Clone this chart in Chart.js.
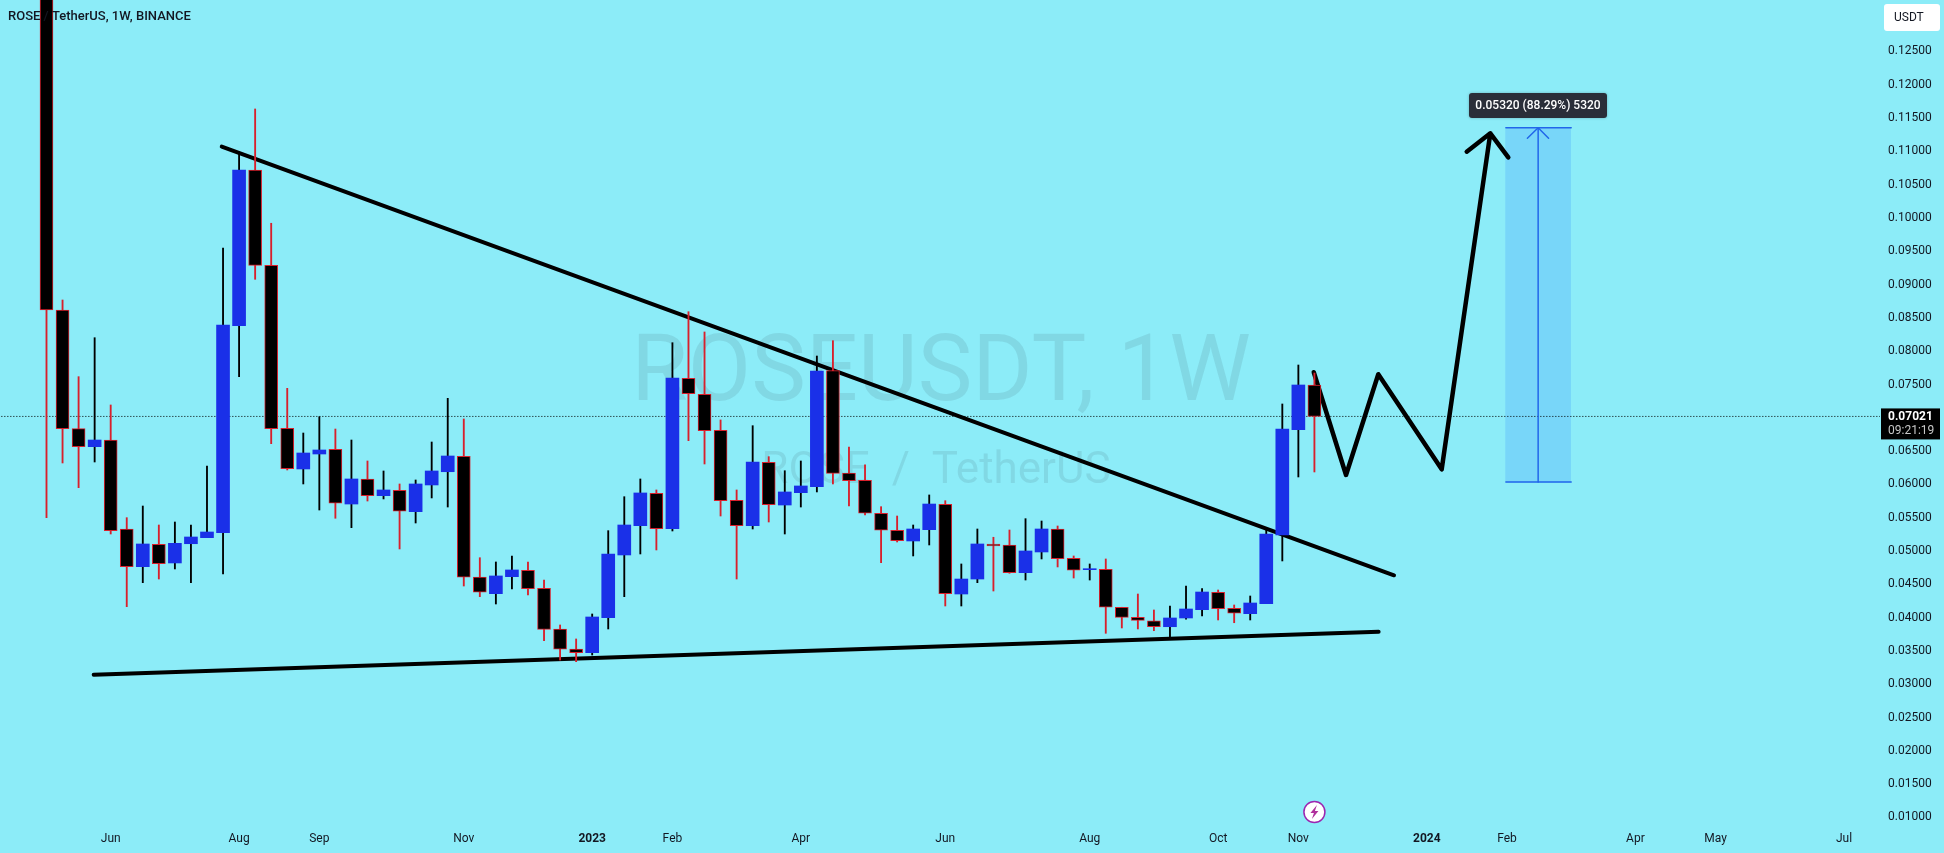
<!DOCTYPE html>
<html>
<head>
<meta charset="utf-8">
<title>ROSE / TetherUS, 1W, BINANCE</title>
<script src="https://cdn.jsdelivr.net/npm/chart.js@4/dist/chart.umd.js"></script>
<style>
  html, body { margin: 0; padding: 0; background: #8cecf8; overflow: hidden; }
  canvas { display: block; }
</style>
</head>
<body>
<canvas id="grafico" width="1944" height="853"></canvas>
<script>
// weekly candles
const opens = [0.13500, 0.08619, 0.06837, 0.06567, 0.06667, 0.05331, 0.04765, 0.05101, 0.04821, 0.05110,
  0.05201, 0.05276, 0.08383, 0.10721, 0.09290, 0.06843, 0.06232, 0.06457, 0.06528, 0.05706,
  0.06082, 0.05831, 0.05912, 0.05591, 0.05992, 0.06191, 0.06422, 0.04610, 0.04360, 0.04615,
  0.04711, 0.04441, 0.03830, 0.03530, 0.03474, 0.03999, 0.04941, 0.05381, 0.05867, 0.05336,
  0.07594, 0.07353, 0.06813, 0.05762, 0.05381, 0.06333, 0.05691, 0.05876, 0.05966, 0.07708,
  0.06172, 0.06062, 0.05567, 0.05312, 0.05151, 0.05321, 0.05702, 0.04355, 0.04580, 0.05106,
  0.05091, 0.04675, 0.04986, 0.05331, 0.04891, 0.04720, 0.04726, 0.04156, 0.04005, 0.03954,
  0.03864, 0.03995, 0.04120, 0.04381, 0.04141, 0.04060, 0.04210, 0.05241, 0.06822, 0.07493];
const highs = [0.14200, 0.08769, 0.07618, 0.08203, 0.07193, 0.05501, 0.05676, 0.05391, 0.05436, 0.05391,
  0.06277, 0.09550, 0.10996, 0.11637, 0.09921, 0.07443, 0.06772, 0.07017, 0.06832, 0.06667,
  0.06352, 0.06202, 0.06007, 0.06067, 0.06637, 0.07293, 0.06983, 0.04900, 0.04836, 0.04926,
  0.04836, 0.04565, 0.03890, 0.03680, 0.04055, 0.05306, 0.05816, 0.06082, 0.05917, 0.08128,
  0.08593, 0.08289, 0.06968, 0.05917, 0.06882, 0.06417, 0.06206, 0.06352, 0.07928, 0.08158,
  0.06562, 0.06296, 0.05666, 0.05526, 0.05391, 0.05842, 0.05756, 0.04806, 0.05331, 0.05207,
  0.05316, 0.05486, 0.05451, 0.05376, 0.04926, 0.04806, 0.04881, 0.04156, 0.04355, 0.04115,
  0.04175, 0.04475, 0.04435, 0.04415, 0.04190, 0.04325, 0.05316, 0.07208, 0.07793, 0.07673];
const lows = [0.05501, 0.06322, 0.05951, 0.06337, 0.05256, 0.04165, 0.04525, 0.04580, 0.04731, 0.04525,
  0.05201, 0.04656, 0.07618, 0.09080, 0.06612, 0.06217, 0.06007, 0.05616, 0.05492, 0.05351,
  0.05751, 0.05782, 0.05031, 0.05421, 0.05797, 0.05661, 0.04475, 0.04315, 0.04205, 0.04430,
  0.04340, 0.03654, 0.03364, 0.03339, 0.03439, 0.03830, 0.04315, 0.04956, 0.05016, 0.05301,
  0.06657, 0.06307, 0.05526, 0.04580, 0.05331, 0.05436, 0.05256, 0.05661, 0.05887, 0.06007,
  0.05676, 0.05541, 0.04825, 0.05136, 0.04926, 0.05091, 0.04175, 0.04175, 0.04525, 0.04400,
  0.04666, 0.04565, 0.04881, 0.04761, 0.04595, 0.04565, 0.03765, 0.03845, 0.03830, 0.03804,
  0.03714, 0.03976, 0.04025, 0.03965, 0.03924, 0.03965, 0.04210, 0.04851, 0.06112, 0.06187];
const closes = [0.08619, 0.06837, 0.06567, 0.06667, 0.05306, 0.04765, 0.05106, 0.04810, 0.05116, 0.05211,
  0.05286, 0.08394, 0.10721, 0.09290, 0.06837, 0.06236, 0.06472, 0.06517, 0.05717, 0.06082,
  0.05831, 0.05917, 0.05597, 0.06007, 0.06202, 0.06427, 0.04606, 0.04381, 0.04626, 0.04716,
  0.04435, 0.03825, 0.03525, 0.03474, 0.04010, 0.04956, 0.05391, 0.05872, 0.05336, 0.07598,
  0.07362, 0.06807, 0.05756, 0.05381, 0.06337, 0.05696, 0.05887, 0.05977, 0.07703, 0.06167,
  0.06056, 0.05567, 0.05312, 0.05155, 0.05331, 0.05706, 0.04360, 0.04580, 0.05106, 0.05076,
  0.04675, 0.05001, 0.05331, 0.04885, 0.04711, 0.04726, 0.04156, 0.04005, 0.03960, 0.03864,
  0.03995, 0.04130, 0.04385, 0.04135, 0.04066, 0.04220, 0.05256, 0.06832, 0.07493, 0.07021];

// axes
const priceTicks = [0.125, 0.12, 0.115, 0.11, 0.105, 0.1, 0.095, 0.09, 0.085, 0.08, 0.075, 0.065, 0.06,
  0.055, 0.05, 0.045, 0.04, 0.035, 0.03, 0.025, 0.02, 0.015, 0.01];
const timeTicks = [4, 12, 17, 26, 34, 39, 47, 56, 65, 73, 78, 86, 91, 99, 104, 112];
const timeLabels = ["Jun", "Aug", "Sep", "Nov", "2023", "Feb", "Apr", "Jun", "Aug", "Oct", "Nov", "2024", "Feb", "Apr", "May", "Jul"];

// drawings: [week, price]
const upperTrend = [[10.92, 0.11071], [83.96, 0.04636]];
const lowerTrend = [[2.94, 0.03144], [83.0, 0.03789]];
const forecast = [[78.96, 0.07684], [80.97, 0.06142], [82.98, 0.07654], [86.93, 0.06227], [89.96, 0.11272],
  [88.49, 0.10996], [89.96, 0.11272], [91.08, 0.10911]];
const rangeBox = { week: 92.94, from: 0.06036, to: 0.11356, left: 90.93, right: 95.0 };
const rangeHead = [[92.27, 0.11197], [92.94, 0.11356], [93.59, 0.11197]];
const lastPrice = 0.07021;

// cores
const azul = "#1a30e8";
const vermelho = "#d8202c";
const preto = "#000000";
const azulDesenho = "#2166ea";
const fonte = 'Roboto, sans-serif';

const semanas = opens.map((_, i) => i);
const sobe = semanas.map((i) => closes[i] >= opens[i]);
const xy = (pontos) => pontos.map(([x, y]) => ({ x, y }));

function linha(pontos, cor, largura, ordem, extra) {
  return Object.assign({
    type: "line",
    data: xy(pontos),
    borderColor: cor,
    borderWidth: largura,
    pointRadius: 0,
    tension: 0,
    fill: false,
    borderCapStyle: "round",
    borderJoinStyle: "round",
    order: ordem,
  }, extra || {});
}

// everything that is not a mark: watermark, header, price tag, tooltip box
const overlay = {
  id: "overlay",
  beforeDatasetsDraw(chart) {
    const ctx = chart.ctx;
    ctx.save();
    ctx.fillStyle = "rgba(19,23,34,0.09)";
    ctx.textAlign = "center";
    ctx.textBaseline = "alphabetic";
    ctx.font = "92px " + fonte;
    ctx.fillText("ROSEUSDT, 1W", 941, 400);
    ctx.font = "44px " + fonte;
    ctx.fillText("ROSE  /  TetherUS", 936, 483);
    ctx.restore();
  },
  afterDatasetsDraw(chart) {
    const ctx = chart.ctx;
    const x = chart.scales.x;
    const y = chart.scales.y;
    ctx.save();
    ctx.textBaseline = "middle";

    // header
    ctx.fillStyle = "#131722";
    ctx.textAlign = "left";
    ctx.font = "500 13px " + fonte;
    ctx.fillText("ROSE / TetherUS, 1W, BINANCE", 8, 17);

    // USDT button
    ctx.fillStyle = "#ffffff";
    ctx.beginPath();
    ctx.roundRect(1884, 4, 56, 27, 3);
    ctx.fill();
    ctx.fillStyle = "#131722";
    ctx.font = "12px " + fonte;
    ctx.fillText("USDT", 1894, 18);

    // last price tag
    const yPreco = y.getPixelForValue(lastPrice);
    ctx.fillStyle = "#000000";
    ctx.fillRect(1881, yPreco - 8, 59, 31);
    ctx.fillStyle = "#ffffff";
    ctx.font = "bold 12px " + fonte;
    ctx.fillText("0.07021", 1888, yPreco + 1);
    ctx.fillStyle = "#c8c8c8";
    ctx.font = "12px " + fonte;
    ctx.fillText("09:21:19", 1888, yPreco + 15);

    // measure label
    ctx.fillStyle = "#2a2e39";
    ctx.shadowColor = "rgba(0,0,0,0.25)";
    ctx.shadowBlur = 3;
    ctx.beginPath();
    ctx.roundRect(1469, 93, 138, 25, 3);
    ctx.fill();
    ctx.shadowBlur = 0;
    ctx.fillStyle = "#ffffff";
    ctx.textAlign = "center";
    ctx.font = "500 12px " + fonte;
    ctx.fillText("0.05320 (88.29%) 5320", 1538, 106);

    // lightning badge
    const xIcone = x.getPixelForValue(79);
    ctx.fillStyle = "#ffffff";
    ctx.strokeStyle = "#9c27b0";
    ctx.lineWidth = 1.5;
    ctx.beginPath();
    ctx.arc(xIcone, 812, 10.5, 0, Math.PI * 2);
    ctx.fill();
    ctx.stroke();
    ctx.fillStyle = "#b0309c";
    ctx.beginPath();
    ctx.moveTo(xIcone + 2.5, 805);
    ctx.lineTo(xIcone - 4, 813);
    ctx.lineTo(xIcone - 0.5, 813);
    ctx.lineTo(xIcone - 2.5, 819);
    ctx.lineTo(xIcone + 4, 811);
    ctx.lineTo(xIcone + 0.5, 811);
    ctx.closePath();
    ctx.fill();
    ctx.restore();
  },
};

const config = {
  type: "bar",
  data: {
    datasets: [
      // measuring box
      {
        type: "bar",
        data: [{ x: rangeBox.week, y: [rangeBox.from, rangeBox.to] }],
        backgroundColor: "rgba(41,130,255,0.2)",
        borderWidth: 0,
        barThickness: 65,
        grouped: false,
        order: 10,
      },
      linha([[-3, lastPrice], [114.3, lastPrice]], preto, 1, 9, { borderDash: [1, 2], borderCapStyle: "butt" }),
      linha([[rangeBox.left, rangeBox.from], [rangeBox.right, rangeBox.from]], azulDesenho, 1.5, 8),
      linha([[rangeBox.left, rangeBox.to], [rangeBox.right, rangeBox.to]], azulDesenho, 1.5, 8),
      linha([[rangeBox.week, rangeBox.from], [rangeBox.week, rangeBox.to]], azulDesenho, 1.5, 8),
      linha(rangeHead, azulDesenho, 1.5, 8),
      linha(upperTrend, preto, 4, 7),
      linha(lowerTrend, preto, 4, 7),
      linha(forecast, preto, 4.5, 7),
      // wicks
      {
        type: "bar",
        data: semanas.map((i) => ({ x: i, y: [lows[i], highs[i]] })),
        backgroundColor: semanas.map((i) => (sobe[i] ? preto : vermelho)),
        borderWidth: 0,
        barThickness: 1.2,
        grouped: false,
        order: 2,
      },
      // bodies
      {
        type: "bar",
        data: semanas.map((i) => ({ x: i, y: [Math.min(opens[i], closes[i]), Math.max(opens[i], closes[i])] })),
        backgroundColor: semanas.map((i) => (sobe[i] ? azul : preto)),
        borderColor: semanas.map((i) => (sobe[i] ? azul : vermelho)),
        borderWidth: semanas.map((i) => (sobe[i] ? 0 : 1)),
        borderSkipped: false,
        barThickness: 13,
        minBarLength: 1,
        grouped: false,
        order: 1,
      },
    ],
  },
  options: {
    responsive: false,
    animation: false,
    devicePixelRatio: 1,
    layout: { padding: 0 },
    plugins: { legend: { display: false }, tooltip: { enabled: false }, title: { display: false } },
    scales: {
      x: {
        type: "linear",
        min: -2.897,
        max: 114.24,
        offset: false,
        grid: { display: false, drawTicks: false },
        border: { display: false },
        afterFit: (scale) => {
          scale.height = 28;
          scale.paddingLeft = 0;
          scale.paddingRight = 0;
        },
        afterBuildTicks: (scale) => { scale.ticks = timeTicks.map((value) => ({ value })); },
        ticks: {
          autoSkip: false,
          maxRotation: 0,
          padding: 7,
          color: "#131722",
          font: (c) => ({
            family: fonte,
            size: 12,
            weight: c.tick && /^\d+$/.test(timeLabels[timeTicks.indexOf(c.tick.value)]) ? "bold" : "normal",
          }),
          callback: (value) => timeLabels[timeTicks.indexOf(value)],
        },
      },
      y: {
        position: "right",
        min: 0.00887,
        max: 0.13273,
        grid: { display: false, drawTicks: false },
        border: { display: false },
        afterFit: (scale) => {
          scale.width = 64;
          scale.paddingTop = 0;
          scale.paddingBottom = 0;
        },
        afterBuildTicks: (scale) => { scale.ticks = priceTicks.map((value) => ({ value })); },
        ticks: {
          autoSkip: false,
          padding: 8,
          color: "#131722",
          font: { family: fonte, size: 12 },
          callback: (value) => value.toFixed(5),
        },
      },
    },
  },
  plugins: [overlay],
};

new Chart(document.getElementById("grafico"), config);
</script>
</body>
</html>
